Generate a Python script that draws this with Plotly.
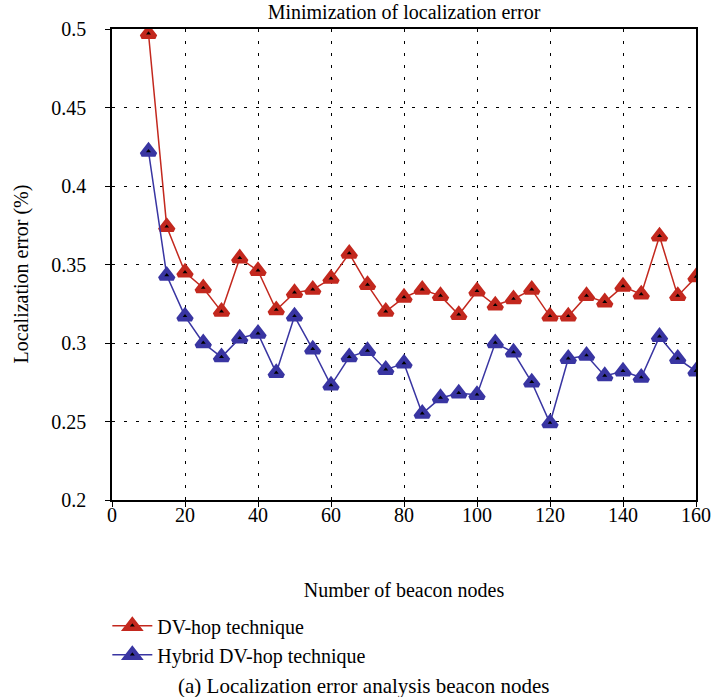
import plotly.graph_objects as go

# Number of beacon nodes
beacon_nodes = [10, 15, 20, 25, 30, 35, 40, 45, 50, 55, 60, 65, 70, 75, 80, 85,
                90, 95, 100, 105, 110, 115, 120, 125, 130, 135, 140, 145, 150, 155, 160]

# Localization error (%) for each technique
dv_hop = [0.497, 0.374, 0.345, 0.335, 0.320, 0.354, 0.346, 0.321, 0.332, 0.334,
          0.341, 0.357, 0.337, 0.320, 0.329, 0.334, 0.330, 0.318, 0.333, 0.324,
          0.328, 0.334, 0.317, 0.317, 0.330, 0.326, 0.336, 0.331, 0.368, 0.330, 0.342]
hybrid_dv_hop = [0.422, 0.343, 0.317, 0.300, 0.291, 0.303, 0.306, 0.281, 0.317, 0.296,
                 0.273, 0.291, 0.295, 0.283, 0.287, 0.255, 0.265, 0.268, 0.267, 0.300,
                 0.294, 0.275, 0.249, 0.290, 0.292, 0.279, 0.282, 0.278, 0.304, 0.290, 0.282]

x_ticks = [0, 20, 40, 60, 80, 100, 120, 140, 160]
y_ticks = [0.2, 0.25, 0.3, 0.35, 0.4, 0.45, 0.5]
y_tick_text = ["0.2", "0.25", "0.3", "0.35", "0.4", "0.45", "0.5"]

FONT = "Liberation Serif, DejaVu Serif, serif"
FS = 20
RED = "#c3281e"
BLUE = "#3935a2"

fig = go.Figure()

for name, values, color, group in [
    ("DV-hop technique", dv_hop, RED, "a"),
    ("Hybrid DV-hop technique", hybrid_dv_hop, BLUE, "b"),
]:
    fig.add_trace(go.Scatter(
        x=beacon_nodes, y=values, name=name, mode="lines+markers",
        legendgroup=group,
        line=dict(color=color, width=1.5),
        marker=dict(symbol="triangle-up", size=12, color="black",
                    line=dict(color=color, width=4.4)),
    ))

axis_common = dict(
    showline=True, linecolor="black", linewidth=1.5, mirror=True,
    ticks="outside", ticklen=5, tickcolor="black", tickwidth=1.2,
    showgrid=True, gridcolor="black", gridwidth=1, griddash="3px,9px",
    zeroline=False,
    tickfont=dict(family=FONT, size=FS, color="black"),
)

fig.update_xaxes(range=[0, 160], tickvals=x_ticks, ticklabelstandoff=-9,
                 **axis_common,
                 title=dict(text="Number of beacon nodes", standoff=58,
                            font=dict(family=FONT, size=FS, color="black")))
fig.update_yaxes(range=[0.2, 0.5], tickvals=y_ticks, ticktext=y_tick_text,
                 ticklabelstandoff=15, **axis_common)

fig.add_annotation(text="Localization error (%)", textangle=-90,
                   xref="paper", yref="paper", x=-0.155, y=0.48,
                   xanchor="center", yanchor="middle", showarrow=False,
                   font=dict(family=FONT, size=FS, color="black"))

fig.add_annotation(text="(a) Localization error analysis beacon nodes",
                   xref="paper", yref="paper", x=0.11, y=-0.395,
                   xanchor="left", yanchor="middle", showarrow=False,
                   font=dict(family=FONT, size=21, color="black"))

fig.update_layout(
    width=723, height=697,
    margin=dict(l=112, r=15, t=29, b=197),
    paper_bgcolor="white", plot_bgcolor="white",
    font=dict(family=FONT, size=FS, color="black"),
    title=dict(text="Minimization of localization error", x=0.5, xref="paper",
               y=0.983, yanchor="middle",
               font=dict(family=FONT, size=FS, color="black")),
    legend=dict(x=-0.008, y=-0.2256, xanchor="left", yanchor="top",
                orientation="v", tracegroupgap=0, itemwidth=40,
                bgcolor="rgba(0,0,0,0)",
                font=dict(family=FONT, size=FS, color="black")),
    showlegend=True,
)

fig.write_html("out.html")
